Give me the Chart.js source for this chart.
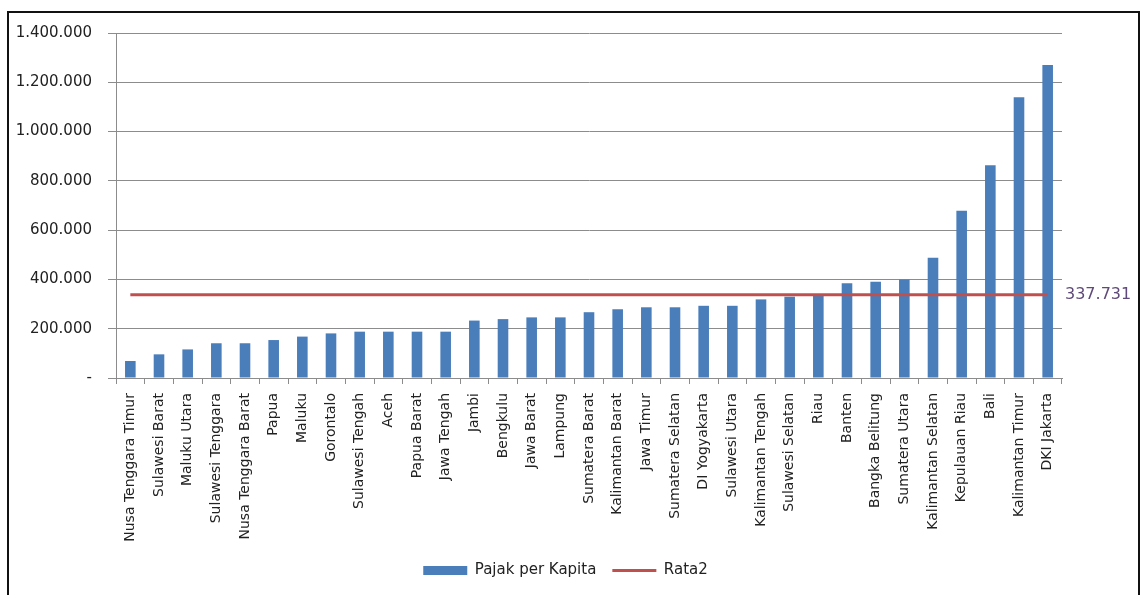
<!DOCTYPE html>
<html>
<head>
<meta charset="utf-8">
<script src="https://cdn.jsdelivr.net/npm/chart.js@4.4.0/dist/chart.umd.min.js"></script>
<style>
  body { margin: 0; background: #fff; }
  #box {
    position: absolute; left: 7px; top: 11px;
    width: 1129px; height: 600px;
    border: 2px solid #111;
  }
</style>
</head>
<body>
<div id="box"><canvas id="pajakChart"></canvas></div>
<script>
const provinsi = [
    'Nusa Tenggara Timur', 'Sulawesi Barat', 'Maluku Utara', 'Sulawesi Tenggara',
    'Nusa Tenggara Barat', 'Papua', 'Maluku', 'Gorontalo', 'Sulawesi Tengah', 'Aceh',
    'Papua Barat', 'Jawa Tengah', 'Jambi', 'Bengkulu', 'Jawa Barat', 'Lampung',
    'Sumatera Barat', 'Kalimantan Barat', 'Jawa Timur', 'Sumatera Selatan',
    'DI Yogyakarta', 'Sulawesi Utara', 'Kalimantan Tengah', 'Sulawesi Selatan', 'Riau',
    'Banten', 'Bangka Belitung', 'Sumatera Utara', 'Kalimantan Selatan',
    'Kepulauan Riau', 'Bali', 'Kalimantan Timur', 'DKI Jakarta'
];
const pajakPerKapita = [
    69000, 96000, 116000, 141000, 141000, 154000, 168000, 181000, 188000, 188000,
    188000, 188000, 233000, 239000, 246000, 246000, 267000, 279000, 287000, 287000,
    293000, 293000, 319000, 330000, 333000, 384000, 391000, 400000, 488000,
    679000, 863000, 1139000, 1270000
];
const rata2Nilai = 337731;
const rata2 = provinsi.map(() => rata2Nilai);
const yTicks = [0, 200000, 400000, 600000, 800000, 1000000, 1200000, 1400000];

const fmt = (v) => String(Math.round(v)).replace(/\B(?=(\d{3})+(?!\d))/g, '.');

const FONT = '"DejaVu Sans", Verdana, sans-serif';

// average value printed just right of the plot, level with the red line
const labelRata2 = {
    id: 'labelRata2',
    afterDatasetsDraw(chart) {
        const { ctx, chartArea, scales: { y } } = chart;
        ctx.save();
        ctx.font = '16px ' + FONT;
        ctx.fillStyle = '#5f497a';
        ctx.textBaseline = 'middle';
        ctx.fillText(fmt(rata2Nilai), chartArea.right + 3, y.getPixelForValue(rata2Nilai));
        ctx.restore();
    }
};

const ctx = document.querySelector('#pajakChart').getContext('2d');
new Chart(ctx, {
    data: {
        labels: provinsi,
        datasets: [{
            type: 'line',
            label: 'Rata2',
            data: rata2,
            borderColor: '#c0504d',
            backgroundColor: '#c0504d',
            borderWidth: 3,
            pointRadius: 0,
            pointStyle: 'line',
            order: 0
        }, {
            type: 'bar',
            label: 'Pajak per Kapita',
            data: pajakPerKapita,
            backgroundColor: '#4a7ebb',
            borderWidth: 0,
            barPercentage: 0.37,
            categoryPercentage: 1,
            pointStyle: 'rect',
            order: 1
        }]
    },
    options: {
        responsive: true,
        maintainAspectRatio: false,
        animation: false,
        layout: { padding: { top: 20, right: 16, bottom: 25, left: 0 } },
        scales: {
            x: {
                grid: { display: true, drawOnChartArea: false, color: '#8c8c8c', tickLength: 6, offset: true },
                border: { color: '#8c8c8c' },
                ticks: {
                    autoSkip: false, minRotation: 90, maxRotation: 90,
                    color: '#222', font: { family: FONT, size: 14 }, padding: 9
                },
                afterFit(scale) { scale.height = 169; }
            },
            y: {
                min: 0,
                max: 1400000,
                afterBuildTicks(scale) { scale.ticks = yTicks.map(v => ({ value: v })); },
                grid: { color: '#8c8c8c', tickLength: 8 },
                border: { color: '#8c8c8c' },
                ticks: {
                    color: '#222', font: { family: FONT, size: 15 }, padding: 16,
                    callback: (v) => v === 0 ? '-' : fmt(v)
                },
                afterFit(scale) {
                    scale.width = 107;
                    scale.paddingTop = 0;
                }
            },
            // empty right-hand strip that leaves room for the average label
            ruang: {
                type: 'linear',
                position: 'right',
                grid: { display: false },
                border: { display: false },
                ticks: { display: false },
                afterFit(scale) { scale.width = 60; }
            }
        },
        plugins: {
            legend: {
                position: 'bottom',
                reverse: true,
                labels: {
                    usePointStyle: true,
                    pointStyleWidth: 44,
                    boxHeight: 9,
                    padding: 16,
                    color: '#222',
                    font: { family: FONT, size: 15 }
                }
            },
            tooltip: { enabled: false }
        }
    },
    plugins: [labelRata2]
});
</script>
</body>
</html>
